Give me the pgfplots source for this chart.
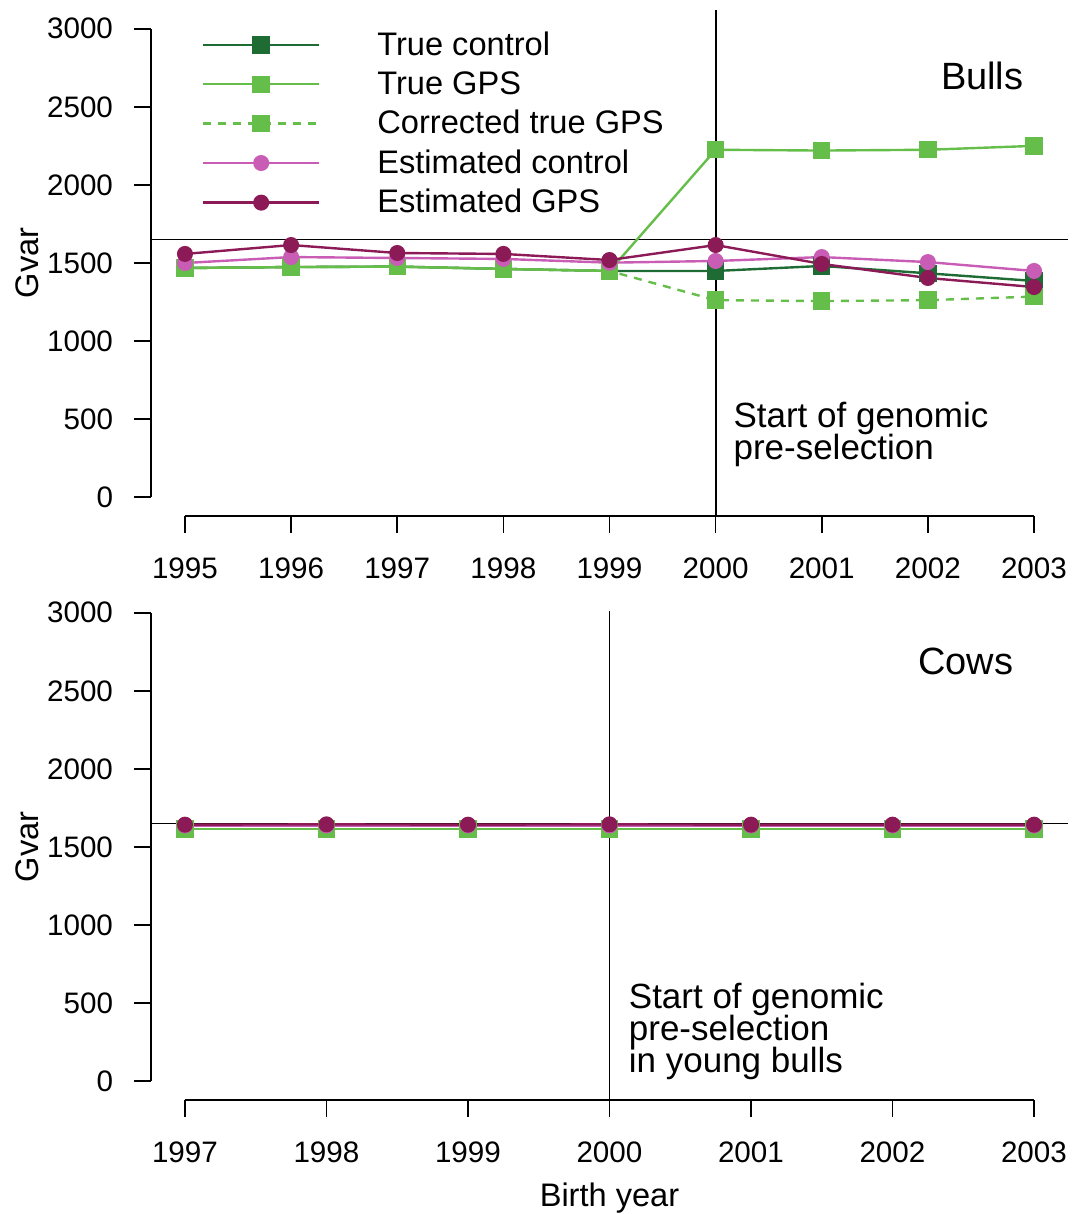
\documentclass[border=0pt]{standalone}
\usepackage{fontspec}
\setmainfont{Liberation Sans}
\usepackage{pgfplots}
\pgfplotsset{compat=1.18}
\definecolor{dgreen}{HTML}{1E6B34}
\definecolor{lgreen}{HTML}{66BE4A}
\definecolor{pinkc}{HTML}{C95DB6}
\definecolor{dpurp}{HTML}{8C1A57}
\pgfplotsset{gstyle/.style={
 scale only axis, width=458.5pt, height=253pt,
 ymin=-120, ymax=3120,
 ytick={0,500,...,3000},
 axis x line*=bottom, axis y line*=left,
 axis line style={draw=none},
 tick align=outside, major tick length=8.5pt,
 tick style={black, line width=0.8pt},
 ticklabel style={font=\fontsize{14.8}{17}\selectfont},
 xticklabel style={yshift=-9pt},
 yticklabel style={xshift=-7pt},
 /pgf/number format/assume math mode=true,
 /pgf/number format/set thousands separator={},
 clip=false,
 every axis plot/.append style={line width=1.2pt},
 legend image code/.code={\draw[mark repeat=2,mark phase=2] plot coordinates {(0pt,0pt)(29pt,0pt)(58pt,0pt)};},
}}
\begin{document}
\begin{tikzpicture}
\useasboundingbox (0,0) rectangle (536.5pt,-607pt);
% ---------- Bulls ----------
\begin{axis}[gstyle, at={(75.5pt,-258pt)}, anchor=south west,
 xmin=1994.68, xmax=2003.32, xtick={1995,...,2003},
 legend cell align=left,
 legend style={at={(0.0556,0.965)}, anchor=north west, draw=none, fill=none,
   inner sep=0pt, outer sep=0pt, column sep=26.5pt, row sep=2.5pt,
   font=\fontsize{16.3}{19}\selectfont},
]
\draw[line width=0.8pt] (axis cs:1995,-120) -- (axis cs:2003,-120);
\draw[line width=0.8pt] (axis cs:1994.68,0) -- (axis cs:1994.68,3000);
\draw[line width=0.9pt] (axis cs:1994.68,1650) -- (axis cs:2003.32,1650);
\draw[line width=0.9pt] (axis cs:2000,-120) -- (axis cs:2000,3120);
\addplot[dgreen, mark=square*, mark size=3.75pt, mark options={solid,fill=dgreen,draw=dgreen}] coordinates {
(1995,1468)(1996,1474)(1997,1477)(1998,1462)(1999,1449)(2000,1449)(2001,1481)(2002,1434)(2003,1385)};
\addlegendentry{True control}
\addplot[lgreen, mark=square*, mark size=3.75pt, mark options={solid,fill=lgreen,draw=lgreen}] coordinates {
(1995,1468)(1996,1474)(1997,1477)(1998,1462)(1999,1449)(2000,2225)(2001,2220)(2002,2225)(2003,2250)};
\addlegendentry{True GPS}
\addplot[lgreen, dash pattern=on 4pt off 3.5pt, mark=square*, mark size=3.75pt, mark options={solid,fill=lgreen,draw=lgreen}] coordinates {
(1995,1468)(1996,1474)(1997,1477)(1998,1462)(1999,1449)(2000,1262)(2001,1256)(2002,1262)(2003,1285)};
\addlegendentry{Corrected true GPS}
\addplot[pinkc, mark=*, mark size=3.4pt, mark options={solid,fill=pinkc,draw=pinkc}] coordinates {
(1995,1500)(1996,1538)(1997,1532)(1998,1526)(1999,1502)(2000,1513)(2001,1538)(2002,1506)(2003,1449)};
\addlegendentry{Estimated control}
\addplot[dpurp, mark=*, mark size=3.4pt, mark options={solid,fill=dpurp,draw=dpurp}] coordinates {
(1995,1558)(1996,1615)(1997,1564)(1998,1558)(1999,1519)(2000,1615)(2001,1494)(2002,1404)(2003,1346)};
\addlegendentry{Estimated GPS}
\node[anchor=base west, inner sep=0pt, font=\fontsize{19}{22}\selectfont] at (axis cs:2002.12,2609) {Bulls};
\node[anchor=base west, inner sep=0pt, align=left, font=\fontsize{17.5}{16}\selectfont] at ([xshift=8.75pt]axis cs:2000,244) {Start of genomic\\[-1.5pt]pre-selection};
\node[rotate=90, font=\fontsize{16.3}{19}\selectfont] at (rel axis cs:-0.135,0.5) {Gvar};
\end{axis}
% ---------- Cows ----------
\begin{axis}[gstyle, at={(75.5pt,-550pt)}, anchor=south west,
 xmin=1996.76, xmax=2003.24, xtick={1997,...,2003},
]
\draw[line width=0.8pt] (axis cs:1997,-120) -- (axis cs:2003,-120);
\draw[line width=0.8pt] (axis cs:1996.76,0) -- (axis cs:1996.76,3000);
\draw[line width=0.9pt] (axis cs:1996.76,1650) -- (axis cs:2003.24,1650);
\draw[line width=0.9pt] (axis cs:2000,-120) -- (axis cs:2000,3013);
\addplot[dgreen, mark=square*, mark size=3.75pt, mark options={solid,fill=dgreen,draw=dgreen}] coordinates {
(1997,1615)(1998,1615)(1999,1615)(2000,1615)(2001,1615)(2002,1615)(2003,1615)};
\addplot[lgreen, mark=square*, mark size=3.75pt, mark options={solid,fill=lgreen,draw=lgreen}] coordinates {
(1997,1615)(1998,1615)(1999,1615)(2000,1615)(2001,1615)(2002,1615)(2003,1615)};
\addplot[pinkc, mark=*, mark size=3.4pt, mark options={solid,fill=pinkc,draw=pinkc}] coordinates {
(1997,1638)(1998,1638)(1999,1638)(2000,1638)(2001,1638)(2002,1638)(2003,1638)};
\addplot[dpurp, mark=*, mark size=3.4pt, mark options={solid,fill=dpurp,draw=dpurp}] coordinates {
(1997,1643)(1998,1645)(1999,1643)(2000,1645)(2001,1643)(2002,1643)(2003,1643)};
\node[anchor=base west, inner sep=0pt, font=\fontsize{19}{22}\selectfont] at (axis cs:2002.18,2602) {Cows};
\node[anchor=base west, inner sep=0pt, align=left, font=\fontsize{17.5}{16}\selectfont] at ([xshift=9.5pt]axis cs:2000,58) {Start of genomic\\[-1.5pt]pre-selection\\[-1.5pt]in young bulls};
\node[rotate=90, font=\fontsize{16.3}{19}\selectfont] at (rel axis cs:-0.135,0.5) {Gvar};
\node[anchor=base, inner sep=0pt, font=\fontsize{16.3}{19}\selectfont] at ([yshift=-53pt]rel axis cs:0.5,0) {Birth year};
\end{axis}
\end{tikzpicture}
\end{document}
